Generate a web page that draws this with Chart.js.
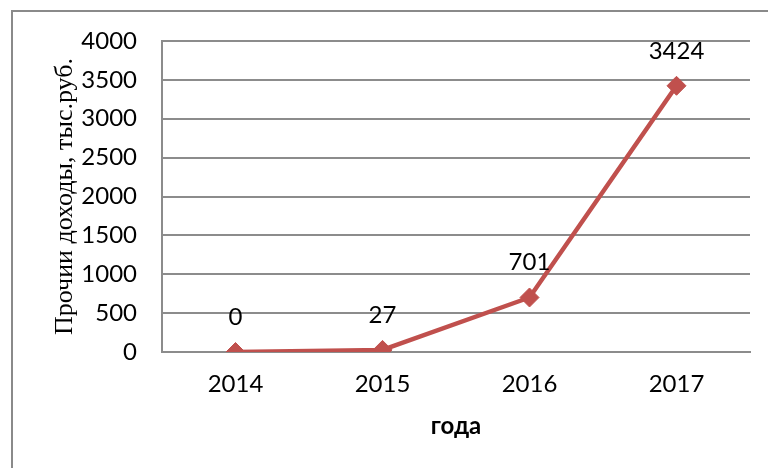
<!DOCTYPE html>
<html>
<head>
<meta charset="utf-8">
<script src="https://cdn.jsdelivr.net/npm/chart.js@4/dist/chart.umd.min.js"></script>
<style>
  html, body { margin: 0; padding: 0; background: #fff; overflow: hidden; }
  #frame { position: absolute; left: 11px; top: 10px; width: 800px; height: 500px; border: 2px solid #8a8a8a; }
  #wrap { position: absolute; left: 0; top: 0; width: 768px; height: 468px; }
</style>
</head>
<body>
<div id="frame"></div>
<div id="wrap"><canvas id="incomeChart" width="768" height="468"></canvas></div>
<script>
const years = ["2014", "2015", "2016", "2017"];
const otherIncome = [0, 27, 701, 3424];
const yTicks = [0, 500, 1000, 1500, 2000, 2500, 3000, 3500, 4000];

const lineColor = '#C0504D';
const gridColor = '#8c8c8c';

// value labels above each marker
const valueLabels = {
    id: 'valueLabels',
    afterDatasetsDraw(chart) {
        const ctx = chart.ctx;
        const meta = chart.getDatasetMeta(0);
        ctx.save();
        ctx.font = '24px Lato';
        ctx.fillStyle = '#000';
        ctx.textAlign = 'center';
        ctx.textBaseline = 'middle';
        meta.data.forEach((pt, i) => {
            ctx.fillText(String(otherIncome[i]), pt.x, pt.y - 35);
        });
        ctx.restore();
    }
};

let incomeChartInstance = null;

function initChart() {
    const ctx = document.getElementById('incomeChart').getContext('2d');

    if (incomeChartInstance !== null) {
        incomeChartInstance.destroy();
    }

    incomeChartInstance = new Chart(ctx, {
        type: 'line',
        data: {
            labels: years,
            datasets: [{
                label: 'Прочии доходы',
                data: otherIncome,
                borderColor: lineColor,
                backgroundColor: lineColor,
                borderWidth: 4.5,
                tension: 0,
                pointStyle: 'rectRot',
                pointRadius: 9.5,
                pointBorderWidth: 1,
                pointBorderColor: lineColor,
                pointBackgroundColor: lineColor
            }]
        },
        options: {
            responsive: false,
            animation: false,
            layout: {
                padding: { left: 50, top: 41, right: 18, bottom: 0 }
            },
            plugins: {
                legend: { display: false },
                tooltip: { enabled: false }
            },
            scales: {
                x: {
                    offset: true,
                    grid: { display: false, drawTicks: false },
                    border: { display: true, color: gridColor, width: 2 },
                    ticks: {
                        color: '#000',
                        font: { family: 'Lato', size: 24 },
                        padding: 18
                    },
                    title: {
                        display: true,
                        text: 'года',
                        color: '#000',
                        font: { family: 'Lato', size: 24, weight: 'bold' },
                        padding: { top: 0, bottom: 27 }
                    },
                    afterFit(scale) { scale.height = 116; }
                },
                y: {
                    min: 0,
                    max: 4000,
                    afterBuildTicks(scale) {
                        scale.ticks = yTicks.map(v => ({ value: v }));
                    },
                    grid: { color: gridColor, lineWidth: 2, drawTicks: false },
                    border: { display: true, color: gridColor, width: 2 },
                    ticks: {
                        color: '#000',
                        font: { family: 'Lato', size: 24 },
                        padding: 25,
                        callback: (v) => String(v)
                    },
                    title: {
                        display: true,
                        text: 'Прочии доходы, тыс.руб.',
                        color: '#000',
                        font: { family: 'Liberation Serif', size: 26 },
                        padding: { top: 0, bottom: 0 }
                    },
                    afterFit(scale) { scale.width = 112; }
                }
            }
        },
        plugins: [valueLabels]
    });
}

initChart();
</script>
</body>
</html>
